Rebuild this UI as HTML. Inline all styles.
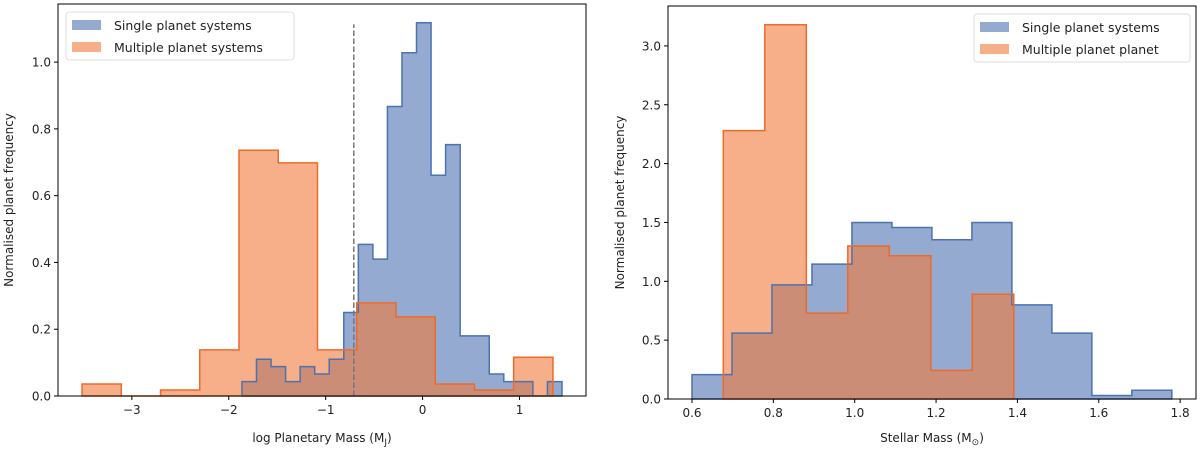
<!DOCTYPE html>
<html><head><meta charset="utf-8"><style>
body{margin:0;background:#fff;width:1200px;height:450px;overflow:hidden}
svg text{font-family:"DejaVu Sans","Liberation Sans",sans-serif;fill:#222}
</style></head><body>
<svg id="s" width="1200" height="450"></svg>
<script>
// Left panel data
const leftSingleStart=-1.864, leftSingleWidth=0.1501;
const leftSingle=[0.043,0.11,0.088,0.043,0.088,0.066,0.11,0.25,0.454,0.41,0.867,1.028,1.118,0.661,0.753,0.18,0.18,0.066,0.043,0.043,0,0.043];
const leftMultiStart=-3.514, leftMultiWidth=0.4049;
const leftMulti=[0.036,0,0.018,0.138,0.736,0.698,0.138,0.279,0.237,0.036,0.018,0.116];
const leftXTicks=[-3,-2,-1,0,1];
const leftXTickLabels=["\u22123","\u22122","\u22121","0","1"];
const leftYTicks=[0,0.2,0.4,0.6,0.8,1.0];
const leftYTickLabels=["0.0","0.2","0.4","0.6","0.8","1.0"];
const cutValue=-0.71;
// Right panel data
const rightSingleStart=0.6, rightSingleWidth=0.0983;
const rightSingle=[0.207,0.56,0.97,1.146,1.5,1.457,1.353,1.5,0.80,0.56,0.03,0.074];
const rightMultiStart=0.677, rightMultiWidth=0.102;
const rightMulti=[2.28,3.18,0.73,1.3,1.217,0.243,0.89];
const rightXTicks=[0.6,0.8,1.0,1.2,1.4,1.6,1.8];
const rightXTickLabels=["0.6","0.8","1.0","1.2","1.4","1.6","1.8"];
const rightYTicks=[0,0.5,1,1.5,2,2.5,3];
const rightYTickLabels=["0.0","0.5","1.0","1.5","2.0","2.5","3.0"];

const NS="http://www.w3.org/2000/svg";
const svg=document.getElementById('s');
function mk(tag,attrs,parent){const e=document.createElementNS(NS,tag);for(const k in attrs)e.setAttribute(k,attrs[k]);(parent||svg).appendChild(e);return e;}
const BLUE="#4c72b0",BLUEF="rgba(76,114,176,0.6)",OR="#ee6a2a",ORF="rgba(240,122,58,0.6)";

function panel(o){
  const g=mk('g',{});
  
  
  const X=v=>o.L+(v-o.xmin)/(o.xmax-o.xmin)*(o.R-o.L);
  const Y=v=>o.B-(v-o.ymin)/(o.ymax-o.ymin)*(o.B-o.T);
  function hist(start,w,vals,fill,stroke,nm){
    let d=`M${X(start)},${Y(0)}`;
    vals.forEach((v,i)=>{d+=` L${X(start+i*w)},${Y(v)} L${X(start+(i+1)*w)},${Y(v)}`;});
    d+=` L${X(start+vals.length*w)},${Y(0)} Z`;
    const f=mk('path',{d:d,fill:fill,stroke:'none'},g);
    
    
    return {d:d,stroke:stroke,nm:nm};
  }
  const a=hist(o.sStart,o.sW,o.sVals,BLUEF,BLUE,'single-hist');
  const b=hist(o.mStart,o.mW,o.mVals,ORF,OR,'multi-hist');
  [a,b].forEach(h=>{const p=mk('path',{d:h.d,fill:'none',stroke:h.stroke,'stroke-width':1.5},g);
    
    });
  if(o.cut!==undefined){
    const l=mk('line',{x1:X(o.cut),x2:X(o.cut),y1:Y(0),y2:Y(o.cutTop),stroke:'#777','stroke-width':1.5,'stroke-dasharray':'5.5,2.5'},g);
    
    
  }
  const fr=mk('rect',{x:o.L,y:o.T,width:o.R-o.L,height:o.B-o.T,fill:'none',stroke:'#000','stroke-width':1},g);
  
  
  o.xt.forEach((v,i)=>{
    mk('line',{x1:X(v),x2:X(v),y1:o.B,y2:o.B+4,stroke:'#000'},g);
    const t=mk('text',{x:X(v),y:o.B+18,'text-anchor':'middle','font-size':12},g);t.textContent=o.xtl[i];
    
    
  });
  o.yt.forEach((v,i)=>{
    mk('line',{x1:o.L-4,x2:o.L,y1:Y(v),y2:Y(v),stroke:'#000'},g);
    const t=mk('text',{x:o.L-7,y:Y(v)+4.5,'text-anchor':'end','font-size':12},g);t.textContent=o.ytl[i];
    
    
  });
  const xl=mk('text',{x:(o.L+o.R)/2,y:442,'text-anchor':'middle','font-size':12},g);
  xl.innerHTML=o.xlabel;
  
  
  const yl=mk('text',{x:0,y:0,'text-anchor':'middle','font-size':12,transform:`translate(${o.ylx},${(o.T+o.B)/2}) rotate(-90)`},g);
  yl.textContent='Normalised planet frequency';
  
  
  const lg=mk('g',{},g);
  
  
  mk('rect',{x:o.lx,y:o.ly,width:o.lw,height:48,rx:3,fill:'rgba(255,255,255,0.8)',stroke:'#ddd'},lg);
  [[BLUEF,o.l1],[ORF,o.l2]].forEach((e,i)=>{
    const r=mk('rect',{x:o.lx+6,y:o.ly+8+i*22,width:29,height:10,fill:e[0]},lg);
    
    
    const t=mk('text',{x:o.lx+48,y:o.ly+18+i*22,'font-size':12.5},lg);t.textContent=e[1];
    
    
  });
}
panel({name:'planet-mass-panel',L:58,R:586,T:4,B:396,xmin:-3.762,xmax:1.686,ymin:0,ymax:1.174,
  sStart:leftSingleStart,sW:leftSingleWidth,sVals:leftSingle,mStart:leftMultiStart,mW:leftMultiWidth,mVals:leftMulti,
  cut:cutValue,cutTop:1.113,xt:leftXTicks,xtl:leftXTickLabels,yt:leftYTicks,ytl:leftYTickLabels,
  xlabel:'log Planetary Mass (M<tspan font-size="9" dy="3">J</tspan><tspan dy="-3">)</tspan>',ylx:13,
  lx:66,ly:12,lw:228,l1:'Single planet systems',l2:'Multiple planet systems'});
panel({name:'stellar-mass-panel',L:668,R:1196,T:6,B:399,xmin:0.541,xmax:1.839,ymin:0,ymax:3.339,
  sStart:rightSingleStart,sW:rightSingleWidth,sVals:rightSingle,mStart:rightMultiStart,mW:rightMultiWidth,mVals:rightMulti,
  xt:rightXTicks,xtl:rightXTickLabels,yt:rightYTicks,ytl:rightYTickLabels,
  xlabel:'Stellar Mass (M<tspan font-size="9" dy="3">\u2299</tspan><tspan dy="-3">)</tspan>',ylx:624,
  lx:974,ly:14,lw:216,l1:'Single planet systems',l2:'Multiple planet planet'});
</script>
</body></html>
